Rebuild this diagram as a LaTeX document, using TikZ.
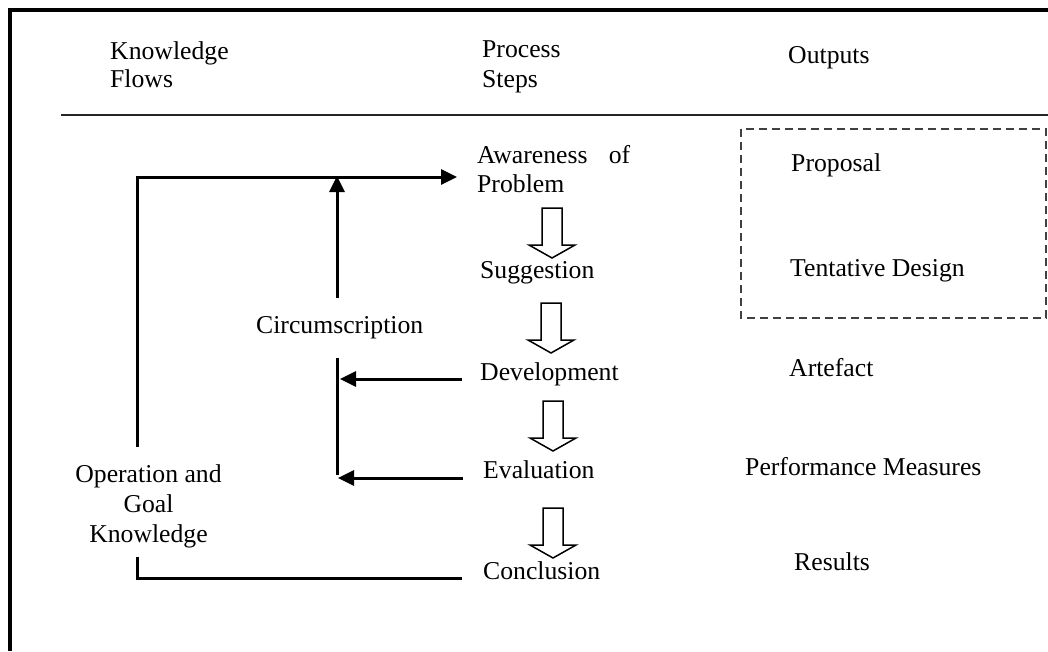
\documentclass[tikz,border=0pt]{standalone}
\usepackage{fontspec}
\setmainfont{Liberation Serif}
\usetikzlibrary{arrows.meta}
\begin{document}
\begin{tikzpicture}[x=1pt,y=-1pt,
  lbl/.style={inner sep=0pt, font=\fontsize{25.7}{29}\selectfont, anchor=base west, text=black},
  clbl/.style={lbl, anchor=base},
  flow/.style={line width=3pt, -{Triangle[length=16pt,width=15pt]}},
  plain/.style={line width=3pt},
  hollow/.pic={\draw[line width=1.5pt, line join=miter] (-10,0) -- (10,0) -- (10,37) -- (23,37) -- (0,50) -- (-23,37) -- (-10,37) -- cycle;}
]
\useasboundingbox (0,0) rectangle (1048,651);

% outer frame (left and top edges) and the header rule
\draw[line width=3.2pt] (10,651) -- (10,10) -- (1048,10);
\draw[line width=1.6pt, black!85] (61,115) -- (1048,115);

% column headers
\node[lbl] (hkf1) at (110,59) {Knowledge};
\node[lbl] (hkf2) at (110,87) {Flows};
\node[lbl] (hps1) at (482,57) {Process};
\node[lbl] (hps2) at (482,87) {Steps};
\node[lbl] (hout) at (788,63) {Outputs};

% process steps
\node[lbl] (aware1) at (477,163) {\makebox[153pt][s]{Awareness of}};
\node[lbl] (aware2) at (477,192) {Problem};
\node[lbl] (sugg) at (480,278) {Suggestion};
\node[lbl] (dev) at (480,380) {Development};
\node[lbl] (eval) at (483,478) {Evaluation};
\node[lbl] (concl) at (483,579) {Conclusion};

% hollow step arrows
\pic at (552,208) {hollow};
\pic at (551,303) {hollow};
\pic at (553,401) {hollow};
\pic at (553,508) {hollow};

% knowledge flows
\node[lbl] (circ) at (256,333) {Circumscription};
\node[clbl] (ogk1) at (148.5,482) {Operation and};
\node[clbl] (ogk2) at (148.5,512) {Goal};
\node[clbl] (ogk3) at (148.5,542) {Knowledge};

% outputs
\draw[line width=1.4pt, black!75, dash pattern=on 8pt off 5pt] (741,129) rectangle (1046,318);
\node[lbl] (prop) at (791,171) {Proposal};
\node[lbl] (tent) at (790,276) {Tentative Design};
\node[lbl] (arte) at (789,376) {Artefact};
\node[lbl] (perf) at (745,475) {Performance Measures};
\node[lbl] (res) at (794,570) {Results};

% connector end points
\coordinate (awareIn) at (457,177);
\coordinate (ogkTop) at (137,447);
\coordinate (ogkBot) at (137,557);
\coordinate (conclOut) at (462,578);
\coordinate (circTop) at (337,298);
\coordinate (circTip) at (337,176);
\coordinate (circBot) at (337,358);
\coordinate (circEnd) at (337,475);
\coordinate (devOut) at (462,379);
\coordinate (devIn) at (340,379);
\coordinate (evalOut) at (463,478);
\coordinate (evalIn) at (338,478);

% connectors
\draw[flow] (ogkTop) |- (awareIn);
\draw[plain] (conclOut) -| (ogkBot);
\draw[flow] (circTop) -- (circTip);
\draw[plain] (circBot) -- (circEnd);
\draw[flow] (devOut) -- (devIn);
\draw[flow] (evalOut) -- (evalIn);
\end{tikzpicture}
\end{document}
